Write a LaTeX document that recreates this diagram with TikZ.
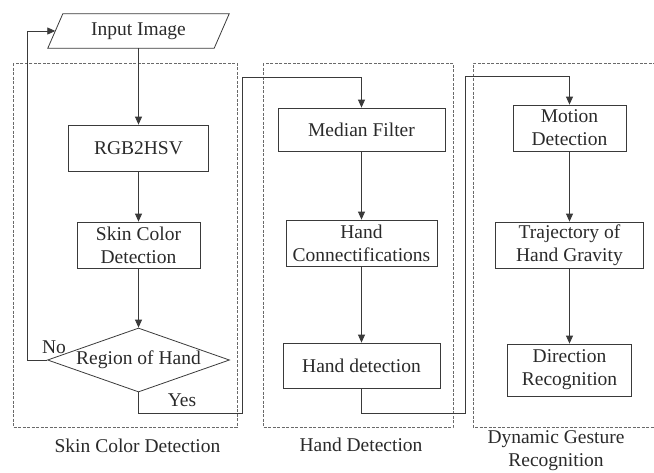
\documentclass[tikz,border=0pt]{standalone}
\usepackage{fontspec}
\setmainfont{Liberation Serif}
\usetikzlibrary{arrows.meta,shapes.geometric}
\definecolor{ln}{HTML}{3A3A3A}
\definecolor{tx}{HTML}{2A2A2A}
\definecolor{dsh}{HTML}{6A6A6A}
\tikzset{
  base/.style={font=\fontsize{19.5}{23}\selectfont, text=tx, align=center, inner sep=0pt},
  procbox/.style={base, draw=ln, line width=0.8pt},
  decide/.style={base, draw=ln, line width=0.8pt, diamond, shape aspect=2.85, inner sep=-2pt},
  lbl/.style={base},
  arr/.style={draw=ln, line width=0.8pt, -{Triangle[length=8pt,width=7pt]}},
  conn/.style={draw=ln, line width=0.8pt},
  group/.style={draw=dsh, line width=0.8pt, dash pattern=on 3pt off 1.5pt},
}
\begin{document}
\begin{tikzpicture}[x=1pt,y=-1pt]
\useasboundingbox (0,0) rectangle (654,472);
% group frames
\draw[group] (13,63) rectangle (237,427);
\draw[group] (263,63) rectangle (453,427);
\draw[group] (656,63) -- (473,63) -- (473,427) -- (656,427);
% input parallelogram
\node[base, minimum width=166pt, minimum height=34pt] (in) at (138.5,31) {Input Image};
\draw[conn] ([xshift=7.5pt]in.north west) -- ([xshift=7.5pt]in.north east)
  -- ([xshift=-7.5pt]in.south east) -- ([xshift=-7.5pt]in.south west) -- cycle;
% column 1
\node[procbox, minimum width=140pt, minimum height=46pt] (rgb) at (138.5,148) {RGB2HSV};
\node[procbox, minimum width=123pt, minimum height=46pt] (skin) at (138.5,245) {Skin Color\\Detection};
\node[decide, minimum width=182pt, minimum height=64pt] (dia) at (138.5,360) {Region of Hand};
\node[lbl] (no) at (54,347) {No};
\node[lbl] (yes) at (182,400) {Yes};
% column 2
\node[procbox, minimum width=167pt, minimum height=43pt] (med) at (361.5,129.5) {Median Filter};
\node[procbox, minimum width=151pt, minimum height=46pt] (hc) at (361.5,243) {Hand\\Connectifications};
\node[procbox, minimum width=157pt, minimum height=45pt] (hdet) at (361.5,365.5) {Hand detection};
% column 3
\node[procbox, minimum width=113pt, minimum height=46pt] (mot) at (569.5,128) {Motion\\Detection};
\node[procbox, minimum width=148pt, minimum height=46pt] (traj) at (569.5,245) {Trajectory of\\Hand Gravity};
\node[procbox, minimum width=124pt, minimum height=52pt] (dir) at (569.5,370) {Direction\\Recognition};
% group labels
\node[lbl] (g1) at (137.5,446) {Skin Color Detection};
\node[lbl] (g2) at (361,445) {Hand Detection};
\node[lbl] (g3) at (556,451) {Dynamic Gesture\\Recognition};
% connectors
\draw[arr] (in) -- (rgb);
\draw[arr] (rgb) -- (skin);
\draw[arr] (skin) -- (dia);
\draw[arr] (dia.west) -- ++(-20pt,0) |- (in.west);
\coordinate (j1) at (242,413);
\coordinate (j2) at (242,77);
\draw[arr] (dia.south) |- (j1) -- (j2) -| (med.north);
\draw[arr] (med) -- (hc);
\draw[arr] (hc) -- (hdet);
\coordinate (k1) at (465,413);
\coordinate (k2) at (465,76);
\draw[arr] (hdet.south) |- (k1) -- (k2) -| (mot.north);
\draw[arr] (mot) -- (traj);
\draw[arr] (traj) -- (dir);
\end{tikzpicture}
\end{document}
